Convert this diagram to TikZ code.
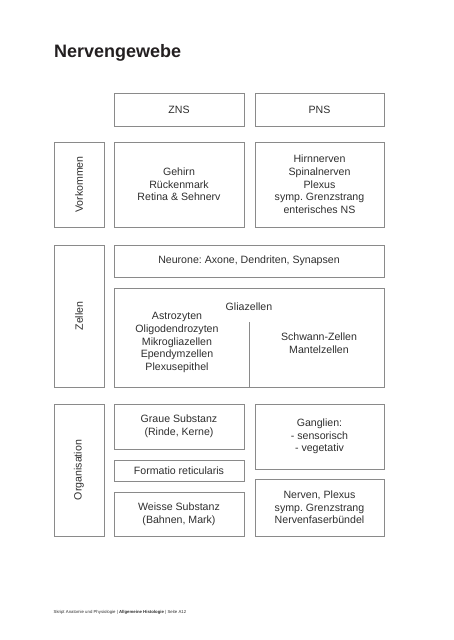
\documentclass[tikz,border=0pt]{standalone}
\usepackage{fontspec}
\setmainfont{Liberation Sans}
\definecolor{linegray}{HTML}{8A8A8A}
\definecolor{textgray}{HTML}{2E2E2E}
\definecolor{titleblack}{HTML}{231F20}
\frenchspacing
\begin{document}
\begin{tikzpicture}[x=1pt,y=-1pt,
  box/.style={draw=linegray, line width=0.8pt, text=textgray, align=center, inner sep=0pt,
    font=\fontsize{10.6}{12.7}\selectfont},
  label/.style={text=textgray, align=center, inner sep=0pt, font=\fontsize{10.6}{12.7}\selectfont},
  sidebox/.style={box, minimum width=50pt},
  zbox/.style={box, minimum width=130pt},
  pbox/.style={box, minimum width=129pt},
  wbox/.style={box, minimum width=270pt}]
\useasboundingbox (0,0) rectangle (453,640);
\node[anchor=base west, text=titleblack, inner sep=0pt, font=\bfseries\fontsize{18}{20}\selectfont] (title) at (54,57) {Nervengewebe};
% header
\node[zbox, minimum height=33pt] (zns) at (179,109.5) {ZNS};
\node[pbox, minimum height=33pt] (pns) at (319.5,109.5) {PNS};
% Vorkommen
\node[sidebox, minimum height=85pt] (vork) at (79,184.5) {};
\node[label, rotate=90] (vorkl) at (vork.center) {Vorkommen};
\node[zbox, minimum height=85pt] (znsv) at (179,184.5) {Gehirn\\Rückenmark\\Retina \& Sehnerv};
\node[pbox, minimum height=85pt] (pnsv) at (319.5,184.5) {Hirnnerven\\Spinalnerven\\Plexus\\symp. Grenzstrang\\enterisches NS};
% Zellen
\node[sidebox, minimum height=142pt] (zell) at (79,316) {};
\node[label, rotate=90] (zelll) at (zell.center) {Zellen};
\node[wbox, minimum height=32pt] (neur) at (249,261) {Neurone: Axone, Dendriten, Synapsen};
\node[wbox, minimum height=99pt] (glia) at (249,337.5) {};
\node[label] (gliat) at (249,307) {Gliazellen};
\node[label] (glial) at (177,342.5) {Astrozyten\\Oligodendrozyten\\Mikrogliazellen\\Ependymzellen\\Plexusepithel};
\node[label] (gliar) at (319,343) {Schwann-Zellen\\Mantelzellen};
\coordinate (divtop) at (249,322);
\draw[linegray, line width=0.8pt] (divtop) -- (divtop |- glia.south);
% Organisation
\node[sidebox, minimum height=132pt] (org) at (79,470) {};
\node[label, rotate=90] (orgl) at (org.center) {Organisation};
\node[zbox, minimum height=45pt] (graue) at (179,426.5) {Graue Substanz\\(Rinde, Kerne)};
\node[zbox, minimum height=21pt] (form) at (179,470.5) {Formatio reticularis};
\node[zbox, minimum height=44pt] (weisse) at (179,514) {Weisse Substanz\\(Bahnen, Mark)};
\node[pbox, minimum height=65pt] (gang) at (319.5,436.5) {Ganglien:\\- sensorisch\\- vegetativ};
\node[pbox, minimum height=57pt] (nerv) at (319.5,507.5) {Nerven, Plexus\\symp. Grenzstrang\\Nervenfaserbündel};
% footer
\node[anchor=base west, inner sep=0pt, text=textgray, font=\fontsize{4.3}{5}\selectfont] (foot) at (53.5,613) {Skript Anatomie und Physiologie | \textbf{Allgemeine Histologie} | Seite A12};
\end{tikzpicture}
\end{document}
